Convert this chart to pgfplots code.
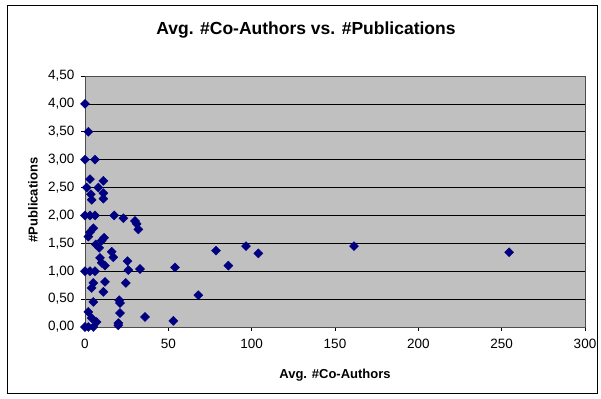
\documentclass[border=0pt]{standalone}
\usepackage{pgfplots}
\pgfplotsset{compat=1.18}
\usepackage{fontspec}
\setmainfont{Liberation Sans}
\definecolor{navyblue}{RGB}{0,0,128}
\definecolor{plotgray}{RGB}{192,192,192}
\begin{document}
\begin{tikzpicture}[x=1pt,y=1pt]
\useasboundingbox (0,0) rectangle (601,398);
\draw[black, line width=0.8pt] (7,5) rectangle (597,393);
\node[font=\fontsize{17.5}{20}\selectfont\bfseries] at (306,368) {Avg. \#Co-Authors vs. \#Publications};
\begin{axis}[
  at={(85pt,71pt)}, anchor=south west,
  width=500pt, height=251pt, scale only axis,
  xmin=0, xmax=300, ymin=0, ymax=4.5,
  xtick={0,50,...,300},
  ytick={0,0.5,...,4.5},
  axis background/.style={fill=plotgray},
  axis line style={draw=gray!60!black, line width=0.8pt},
  ymajorgrids, major grid style={black, line width=0.7pt},
  tick align=outside, major tick length=4pt,
  xtick pos=bottom, ytick pos=left,
  tick style={black, line width=0.7pt},
  ticklabel style={font=\fontsize{13.5}{15}\selectfont},
  /pgf/number format/assume math mode=true,
  yticklabel style={xshift=-3pt, /pgf/number format/.cd, fixed, fixed zerofill, precision=2, use comma},
  xticklabel style={yshift=-5pt, /pgf/number format/.cd, fixed, precision=0},
  clip=false,
]
\addplot[only marks, mark=square*, mark size=3.2pt, mark options={rotate=45, fill=navyblue, draw=navyblue}, color=navyblue] coordinates {
(0,4.0) (2,3.5) (0,3.0) (6,3.0)
(3,2.65) (11,2.62) (1,2.5) (8,2.5) (3.5,2.38) (11,2.4) (4,2.28) (11,2.3)
(0,2.0) (3,2.0) (6,2.0) (17.5,2.0) (23,1.95)
(30,1.9) (31,1.85) (32,1.75)
(5,1.77) (3,1.7) (2,1.62)
(6.5,1.48) (10,1.55) (11.5,1.6) (8.5,1.42)
(16,1.35) (17,1.25) (9,1.24) (25.5,1.18) (10,1.15) (12,1.1)
(0,1.0) (3,1.0) (6,1.0) (26,1.02) (33,1.04) (54,1.07)
(5,0.79) (4,0.7) (12,0.81) (11,0.63) (24.5,0.79)
(5,0.45) (20.5,0.48) (21,0.43)
(2,0.27) (4,0.16) (7,0.09) (21,0.25) (20,0.07) (20,0.03) (36,0.18) (53,0.11)
(0,0) (2,0) (5,0)
(68,0.57) (78.6,1.37) (86,1.1) (96.6,1.45) (104,1.32) (161.4,1.45) (254.5,1.34)
};
\end{axis}
\node[font=\fontsize{13}{15}\selectfont\bfseries] at (335,23) {Avg. \#Co-Authors};
\node[font=\fontsize{13}{15}\selectfont\bfseries, rotate=90] at (33,198) {\#Publications};
\end{tikzpicture}
\end{document}
